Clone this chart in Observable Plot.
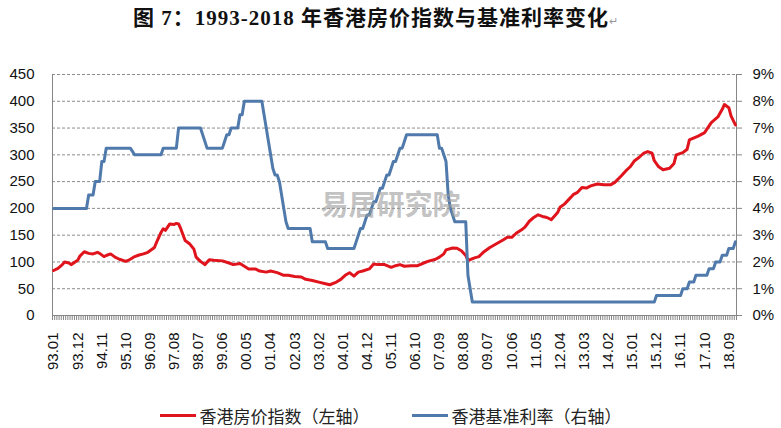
<!DOCTYPE html>
<html><head><meta charset="utf-8">
<script src="https://cdn.jsdelivr.net/npm/d3@7"></script>
<script src="https://cdn.jsdelivr.net/npm/@observablehq/plot@0.6"></script>
<style>
body{margin:0;background:#fff;width:781px;height:428px;overflow:hidden;font-family:"Liberation Sans",Arial,sans-serif;}
#title{height:52px;position:relative;}
#title .t{position:absolute;left:133px;top:1px;font-weight:bold;font-size:21px;letter-spacing:1px;font-family:"Liberation Serif","Noto Sans CJK SC",serif;white-space:nowrap;color:#111;}
#title .rm{font-size:11px;color:#999;font-weight:normal;}
#legend{height:33px;display:flex;justify-content:center;align-items:center;padding-top:7px;box-sizing:border-box;font-size:17px;font-family:"Noto Sans CJK SC",sans-serif;color:#222;}
.item{display:flex;align-items:center;margin:0 21px;}
.sw{width:36px;height:3px;margin-right:4px;}
#chart svg{display:block;}
</style></head>
<body>
<div id="title"><span class="t">图 7：1993-2018 年香港房价指数与基准利率变化<span class="rm">↵</span></span></div>
<div id="chart"></div>
<div id="legend"></div>
<script>
// month index: 0 = 1993.01, 311 = 2018.12
const xLabels = ["93.01","93.12","94.11","95.10","96.09","97.08","98.07","99.06","00.05","01.04","02.03","03.02","04.01","04.12","05.11","06.10","07.09","08.08","09.07","10.06","11.05","12.04","13.03","14.02","15.01","15.12","16.11","17.10","18.09"];
const labelStep = 11;
const monthCount = 312;

// 香港房价指数 (left axis): [month index, value]
const priceSeries = [[0,84],[2,88],[4,95],[5,100],[7,98],[8,95],[11,103],[12,111],[14,119],[16,116],[18,115],[20,118],[21,116],[23,110],[24,112],[26,115],[28,109],[30,105],[33,101],[35,105],[37,110],[39,113],[41,115],[43,118],[46,127],[47,137],[49,155],[50,162],[51,159],[53,171],[55,170],[56,172],[57,171],[58,162],[60,140],[62,134],[64,124],[65,109],[67,101],[69,95],[71,104],[73,103],[77,102],[80,98],[82,95],[85,97],[87,92],[89,87],[92,87],[94,83],[97,81],[99,83],[102,80],[105,75],[107,75],[110,73],[113,72],[115,67.5],[118,65.5],[121,62.4],[124,59.3],[126,57.4],[129,62.4],[131,67.4],[133,75],[135,80],[137,73.5],[139,81],[141,83],[144,87],[146,96],[148,95],[151,95],[154,90],[156,93],[158,95],[160,92],[163,93],[166,93],[168,96.6],[171,101.5],[174,104.6],[176,109],[178,115],[179,122.6],[182,126],[184,125.7],[186,121],[188,112],[189,102.7],[192,107.7],[194,110],[196,118],[199,127],[202,134],[205,141],[207,146],[209,146],[211,153.6],[214,161.7],[215,165],[217,176],[219,183],[221,188],[223,185],[225,183],[227,179],[230,193],[231,202],[233,208],[236,221],[237,225.6],[239,230],[241,239],[243,238],[245,242],[248,245.5],[251,244],[254,244],[256,248.5],[259,261],[261,270],[263,277.7],[265,289],[267,295],[269,302.5],[271,306],[273,303],[274,289],[276,277.7],[278,272],[281,275],[283,284],[284,300],[287,304],[289,310.5],[290,328],[294,335],[297,341.6],[298,348],[300,360],[303,370.7],[305,385],[306,394],[308,388],[309,372.6],[311,356]];

// 香港基准利率 % (right axis): [month index, rate]
const rateSeries = [[0,4],[15,4],[16,4.5],[18,4.5],[19,5],[21,5],[22,5.75],[23,5.75],[24,6.25],[35,6.25],[37,6],[49,6],[50,6.25],[56,6.25],[57,7],[67,7],[70,6.25],[77,6.25],[78,6.5],[79,6.75],[80,6.75],[81,7],[84,7],[85,7.5],[86,7.5],[87,8],[95,8],[96,7.5],[97,7],[98,6.5],[99,6],[100,5.5],[101,5.25],[102,5.25],[103,5],[104,4.5],[105,4],[106,3.5],[107,3.25],[117,3.25],[118,2.75],[124,2.75],[125,2.5],[137,2.5],[138,2.75],[139,3],[140,3.25],[141,3.25],[142,3.5],[143,3.75],[144,3.75],[145,4],[146,4.25],[147,4.25],[148,4.5],[149,4.75],[150,4.75],[151,5],[152,5.25],[153,5.25],[154,5.5],[155,5.75],[156,5.75],[157,6],[158,6.25],[159,6.25],[160,6.5],[161,6.75],[175,6.75],[176,6.25],[177,6.25],[178,6],[179,5.75],[180,4.5],[181,4],[182,3.75],[183,3.5],[188,3.5],[189,1.5],[190,1],[191,0.5],[274,0.5],[275,0.75],[286,0.75],[287,1],[289,1],[290,1.25],[292,1.25],[293,1.5],[298,1.5],[299,1.75],[301,1.75],[302,2],[304,2],[305,2.25],[307,2.25],[308,2.5],[310,2.5],[311,2.75]];

const leftTicks = [0,50,100,150,200,250,300,350,400,450];
const rightTicks = [0,1,2,3,4,5,6,7,8,9];
const seriesNames = ["香港房价指数（左轴）","香港基准利率（右轴）"];
const colors = ["#e0141c","#4f7aab"];
const watermark = "易居研究院";

const ratio = 450 / 9; // right-axis % to left-axis units

const price = priceSeries.map(([i, v]) => ({i, v}));
const rate = rateSeries.map(([i, r]) => ({i, r}));
const labelIdx = xLabels.map((_, k) => k * labelStep);
const boundaries = d3.range(monthCount + 1).map(k => k - 0.5);

const axisGray = "#868686";

const chart = Plot.plot({
  width: 781, height: 343,
  marginTop: 22, marginBottom: 80, marginLeft: 52, marginRight: 45,
  style: {fontSize: "15px", fontFamily: "'Liberation Sans', Arial, sans-serif", color: "#111", background: "transparent", overflow: "visible"},
  x: {domain: [-0.5, monthCount - 0.5]},
  y: {domain: [0, 450]},
  marks: [
    Plot.ruleY(leftTicks.filter(d => d > 0), {stroke: "#8c8c8c", strokeDasharray: "3,2", strokeWidth: 1}),
    Plot.axisY({ticks: leftTicks, tickSize: 0, tickPadding: 18, label: null}),
    Plot.axisY({anchor: "right", ticks: rightTicks.map(r => r * ratio), tickFormat: d => (d / ratio) + "%", tickSize: 5, tickPadding: 11, label: null, stroke: axisGray}),
    Plot.axisX({ticks: boundaries, tickSize: 5, tickFormat: () => "", label: null, stroke: axisGray}),
    Plot.axisX({ticks: labelIdx, tickFormat: i => xLabels[i / labelStep], tickRotate: -90, tickSize: 0, tickPadding: 17, label: null}),
    Plot.ruleX([-0.5, monthCount - 0.5], {stroke: axisGray}),
    Plot.ruleY([0], {stroke: axisGray}),
    Plot.line(price, {x: "i", y: "v", stroke: colors[0], strokeWidth: 3, strokeLinejoin: "round"}),
    Plot.line(rate, {x: "i", y: d => d.r * ratio, stroke: colors[1], strokeWidth: 3, strokeLinejoin: "round"}),
    Plot.text([watermark], {text: d => d, frameAnchor: "middle", dx: -4, dy: 11, fontSize: 28, fontWeight: "bold", fill: "#9a9a9a", fillOpacity: 0.6, fontFamily: "'Noto Sans CJK SC', serif"})
  ]
});
document.getElementById("chart").appendChild(chart);

const legend = document.getElementById("legend");
seriesNames.forEach((name, k) => {
  const item = document.createElement("div");
  item.className = "item";
  const sw = document.createElement("span");
  sw.className = "sw";
  sw.style.background = colors[k];
  const tx = document.createElement("span");
  tx.textContent = name;
  item.appendChild(sw); item.appendChild(tx);
  legend.appendChild(item);
});
</script>
</body></html>
